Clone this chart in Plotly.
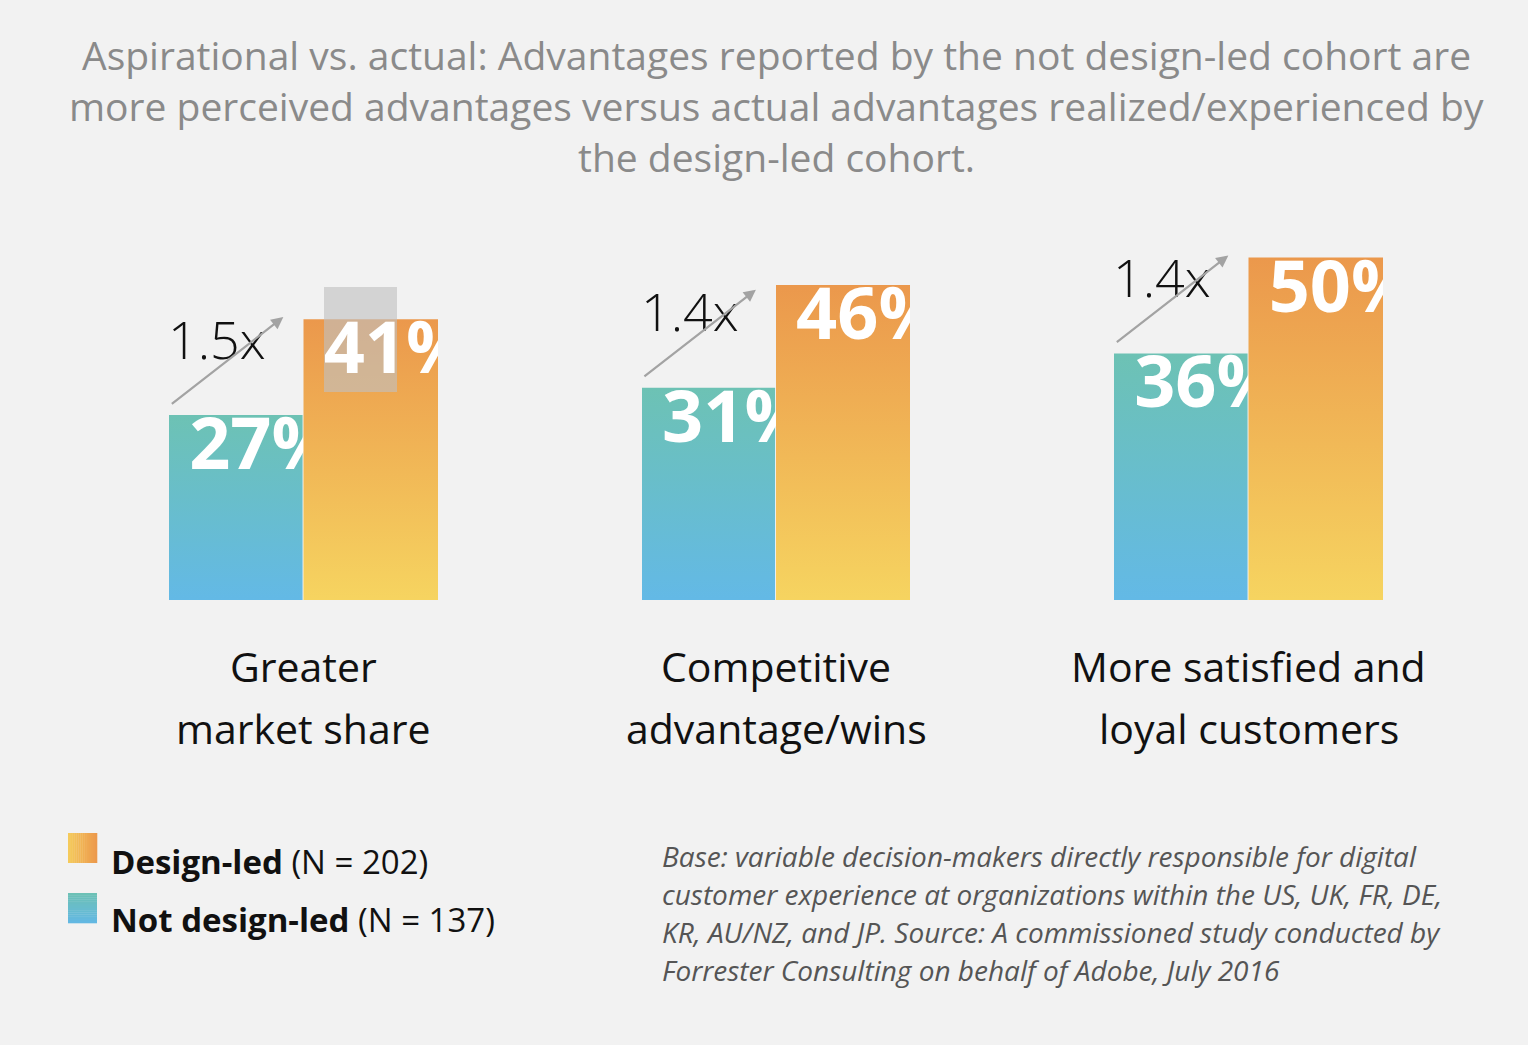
import plotly.graph_objects as go

# ---------------- data ----------------
categories = [["Greater", "market share"],
              ["Competitive", "advantage/wins"],
              ["More satisfied and", "loyal customers"]]
not_design_led = [27, 31, 36]
design_led = [41, 46, 50]
multipliers = ["1.5x", "1.4x", "1.4x"]
legend_labels = ["<b>Design-led</b> (N = 202)", "<b>Not design-led</b> (N = 137)"]
title_lines = [
    "Aspirational vs. actual: Advantages reported by the not design-led cohort are",
    "more perceived advantages versus actual advantages realized/experienced by",
    "the design-led cohort.",
]
note_lines = [
    "Base: variable decision-makers directly responsible for digital",
    "customer experience at organizations within the US, UK, FR, DE,",
    "KR, AU/NZ, and JP. Source: A commissioned study conducted by",
    "Forrester Consulting on behalf of Adobe, July 2016",
]

# ---------------- layout helpers ----------------
W, H = 1528, 1045
def fx(px):
    return px / W
def fy(py):
    return 1 - py / H

BG = "#f2f2f2"
FONT = "Open Sans"
teal_scale = [[0, "#63b9e6"], [1, "#6dc2b4"]]
orange_scale = [[0, "#f6d460"], [1, "#eb984c"]]

group_px = [(169, 438), (642, 910), (1114, 1383)]
BASE_PX = 600
PX_PER_UNIT = 6.85
YMAX = 60

# pixel -> axis-unit helpers for the decorative highlight box (group 1)
def gx(px, g=0):
    a, b = group_px[g]
    return (px - a) / (b - a) * 2
def gy(py):
    return (BASE_PX - py) / PX_PER_UNIT

fig = go.Figure()
annotations = []
shapes = []

for i in range(3):
    ax_name = "x" if i == 0 else f"x{i + 1}"
    t, o = not_design_led[i], design_led[i]
    # teal bar
    fig.add_trace(go.Scatter(x=[0, 0.993], y=[t, t], fill="tozeroy", mode="none",
                             fillgradient=dict(type="vertical", colorscale=teal_scale),
                             xaxis=ax_name, yaxis="y", hoverinfo="skip", showlegend=False))
    fig.add_trace(go.Scatter(x=[0.15], y=[t], mode="text", text=[f"{t}%"],
                             textposition="bottom right", cliponaxis=True,
                             textfont=dict(family=FONT, size=72, color="white", weight="bold"),
                             xaxis=ax_name, yaxis="y", hoverinfo="skip", showlegend=False))
    # orange bar
    fig.add_trace(go.Scatter(x=[1.0, 2.0], y=[o, o], fill="tozeroy", mode="none",
                             fillgradient=dict(type="vertical", colorscale=orange_scale),
                             xaxis=ax_name, yaxis="y", hoverinfo="skip", showlegend=False))
    if i == 0:
        # translucent grey selection box that sits over the first orange bar (under its label)
        bx0, bx1, by0, by1 = gx(324), gx(397), gy(392), gy(287)
        fig.add_trace(go.Scatter(x=[bx0, bx1, bx1, bx0, bx0], y=[by0, by0, by1, by1, by0],
                                 fill="toself", mode="none", fillcolor="rgba(192,192,192,0.62)",
                                 xaxis=ax_name, yaxis="y", hoverinfo="skip", showlegend=False))
    fig.add_trace(go.Scatter(x=[1.15], y=[o], mode="text", text=[f"{o}%"],
                             textposition="bottom right", cliponaxis=True,
                             textfont=dict(family=FONT, size=72, color="white", weight="bold"),
                             xaxis=ax_name, yaxis="y", hoverinfo="skip", showlegend=False))
    # multiplier label and arrow
    annotations.append(dict(xref=ax_name, yref="y", x=0, y=t, yshift=77, xshift=-3,
                            text=multipliers[i], showarrow=False, xanchor="left", yanchor="middle",
                            font=dict(family=FONT, size=52, color="#111111", weight=300)))
    annotations.append(dict(xref=ax_name, yref="y", x=0.85, y=t, yshift=98,
                            ax=-113, ay=88, axref="pixel", ayref="pixel", text="",
                            showarrow=True, arrowhead=2, arrowsize=1.1, arrowwidth=2.2,
                            arrowcolor="#a3a3a3", standoff=0))
    # category labels
    for j, line in enumerate(categories[i]):
        annotations.append(dict(xref=ax_name, yref="paper", x=1, y=fy(666 + 62 * j),
                                text=line, showarrow=False, xanchor="center", yanchor="middle",
                                font=dict(family=FONT, size=41, color="#111111")))

# legend swatches (gradient strips)
def lerp(c1, c2, f):
    return "#%02x%02x%02x" % tuple(int(round(a + (b - a) * f)) for a, b in zip(c1, c2))

n = 14
for k in range(n):
    f = (k + 0.5) / n
    shapes.append(dict(type="rect", xref="paper", yref="paper",
                       x0=fx(68 + 29 * k / n), x1=fx(68 + 29 * (k + 1) / n + 0.3),
                       y0=fy(863), y1=fy(833),
                       fillcolor=lerp((245, 204, 92), (236, 152, 76), f), line=dict(width=0)))
    shapes.append(dict(type="rect", xref="paper", yref="paper",
                       x0=fx(68), x1=fx(97),
                       y0=fy(893 + 30 * (k + 1) / n + 0.3), y1=fy(893 + 30 * k / n),
                       fillcolor=lerp((109, 193, 180), (99, 184, 228), f), line=dict(width=0)))

for j, lab in enumerate(legend_labels):
    annotations.append(dict(xref="paper", yref="paper", x=fx(109), y=fy(861 + 58 * j),
                            text=lab, showarrow=False, xanchor="left", yanchor="middle",
                            font=dict(family=FONT, size=33, color="#111111")))

for j, line in enumerate(title_lines):
    annotations.append(dict(xref="paper", yref="paper", x=fx(776), y=fy(55 + 51 * j),
                            text=line, showarrow=False, xanchor="center", yanchor="middle",
                            font=dict(family=FONT, size=39, color="#8a8a8a")))

for j, line in enumerate(note_lines):
    annotations.append(dict(xref="paper", yref="paper", x=fx(660), y=fy(856 + 38 * j),
                            text=line, showarrow=False, xanchor="left", yanchor="middle",
                            font=dict(family=FONT, size=28, color="#555555", style="italic")))

axis_common = dict(visible=False, showgrid=False, zeroline=False, fixedrange=True)
layout_axes = {}
for i, (a, b) in enumerate(group_px):
    key = "xaxis" if i == 0 else f"xaxis{i + 1}"
    layout_axes[key] = dict(domain=[fx(a), fx(b)], range=[0, 2], anchor="y", **axis_common)

fig.update_layout(
    width=W, height=H,
    margin=dict(l=0, r=0, t=0, b=0),
    paper_bgcolor=BG, plot_bgcolor=BG,
    yaxis=dict(domain=[fy(BASE_PX), fy(BASE_PX - YMAX * PX_PER_UNIT)], range=[0, YMAX],
               anchor="x", **axis_common),
    annotations=annotations, shapes=shapes,
    showlegend=False,
    **layout_axes,
)

fig.write_html("out.html", config={"displayModeBar": False},
               post_script="document.body.style.margin='0';document.body.style.background='#f2f2f2';"
                           "document.body.style.overflow='hidden';")
